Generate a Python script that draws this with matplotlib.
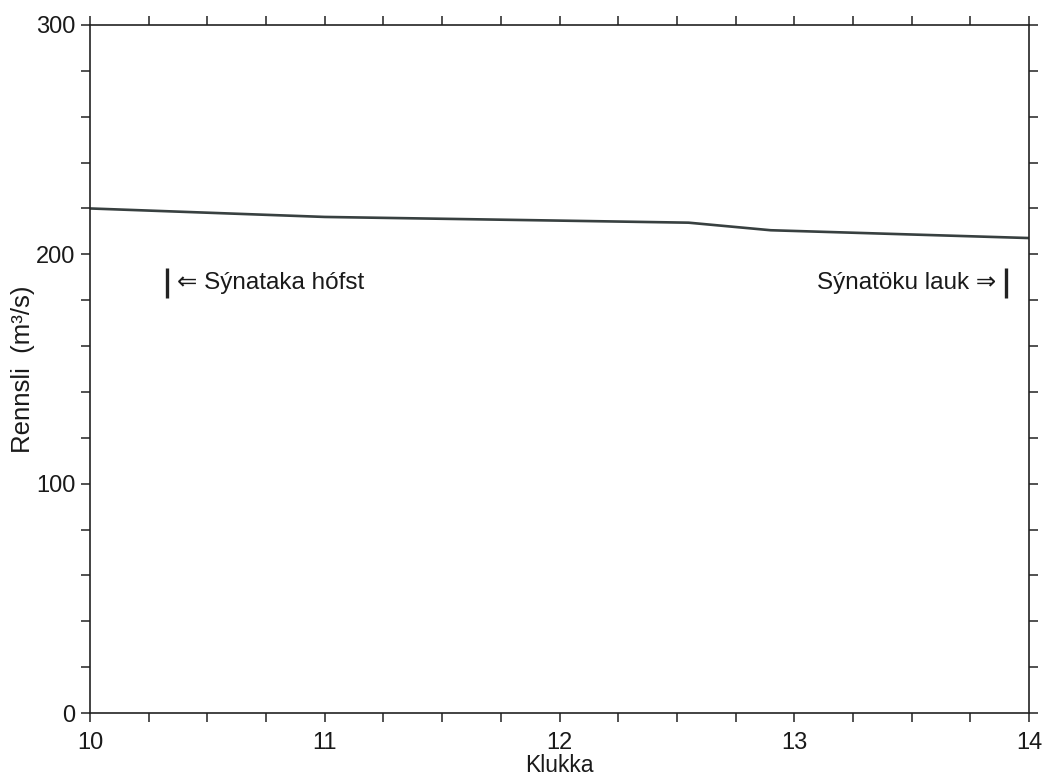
import numpy as np
import matplotlib
matplotlib.use('Agg')
import matplotlib.pyplot as plt
from matplotlib.ticker import MultipleLocator

plt.rcParams['font.family'] = ['Liberation Sans', 'DejaVu Sans']

# flow data (hours, m3/s)
klukka = [10.0, 11.0, 12.0, 12.55, 12.9, 14.0]
rennsli = [220.0, 216.3, 214.7, 213.8, 210.5, 207.1]

# sampling start / end markers
sample_start = 10.33
sample_end = 13.9
marker_low = 181
marker_high = 194
label_start = '\u21d0 Sýnataka hófst'
label_end = 'Sýnatöku lauk \u21d2'

x_ticks = [10, 11, 12, 13, 14]
y_ticks = [0, 100, 200, 300]

fig = plt.figure(figsize=(10.42, 7.78), dpi=100)
ax = fig.add_axes([0.0864, 0.0835, 0.9011, 0.8844])

ax.plot(klukka, rennsli, color='#384040', linewidth=1.9)

# marker bars
ax.plot([sample_start, sample_start], [marker_low, marker_high], color='#222222', linewidth=2.4,
        solid_capstyle='butt')
ax.plot([sample_end, sample_end], [marker_low, marker_high], color='#222222', linewidth=2.4,
        solid_capstyle='butt')
ax.text(sample_start + 0.04, (marker_low + marker_high) / 2, label_start, fontsize=17.5,
        ha='left', va='center', color='#1a1a1a')
ax.text(sample_end - 0.04, (marker_low + marker_high) / 2, label_end, fontsize=17.5,
        ha='right', va='center', color='#1a1a1a')

ax.set_xlim(10, 14)
ax.set_ylim(0, 300)
ax.set_xticks(x_ticks)
ax.set_yticks(y_ticks)
ax.xaxis.set_minor_locator(MultipleLocator(0.25))
ax.yaxis.set_minor_locator(MultipleLocator(20))

ax.tick_params(which='both', direction='out', length=6.5, width=1.1, color='#222222',
               top=True, right=True, labelsize=17, labelcolor='#1a1a1a')
ax.tick_params(axis='x', pad=7)
ax.tick_params(axis='y', pad=4)
for s in ax.spines.values():
    s.set_linewidth(1.2)
    s.set_color('#222222')

ax.set_xlabel('Klukka', fontsize=16.5, labelpad=0, color='#1a1a1a')
ax.set_ylabel('Rennsli  (m³/s)', fontsize=18.5, labelpad=0.5, color='#1a1a1a')

fig.savefig('out.png', dpi=100)
